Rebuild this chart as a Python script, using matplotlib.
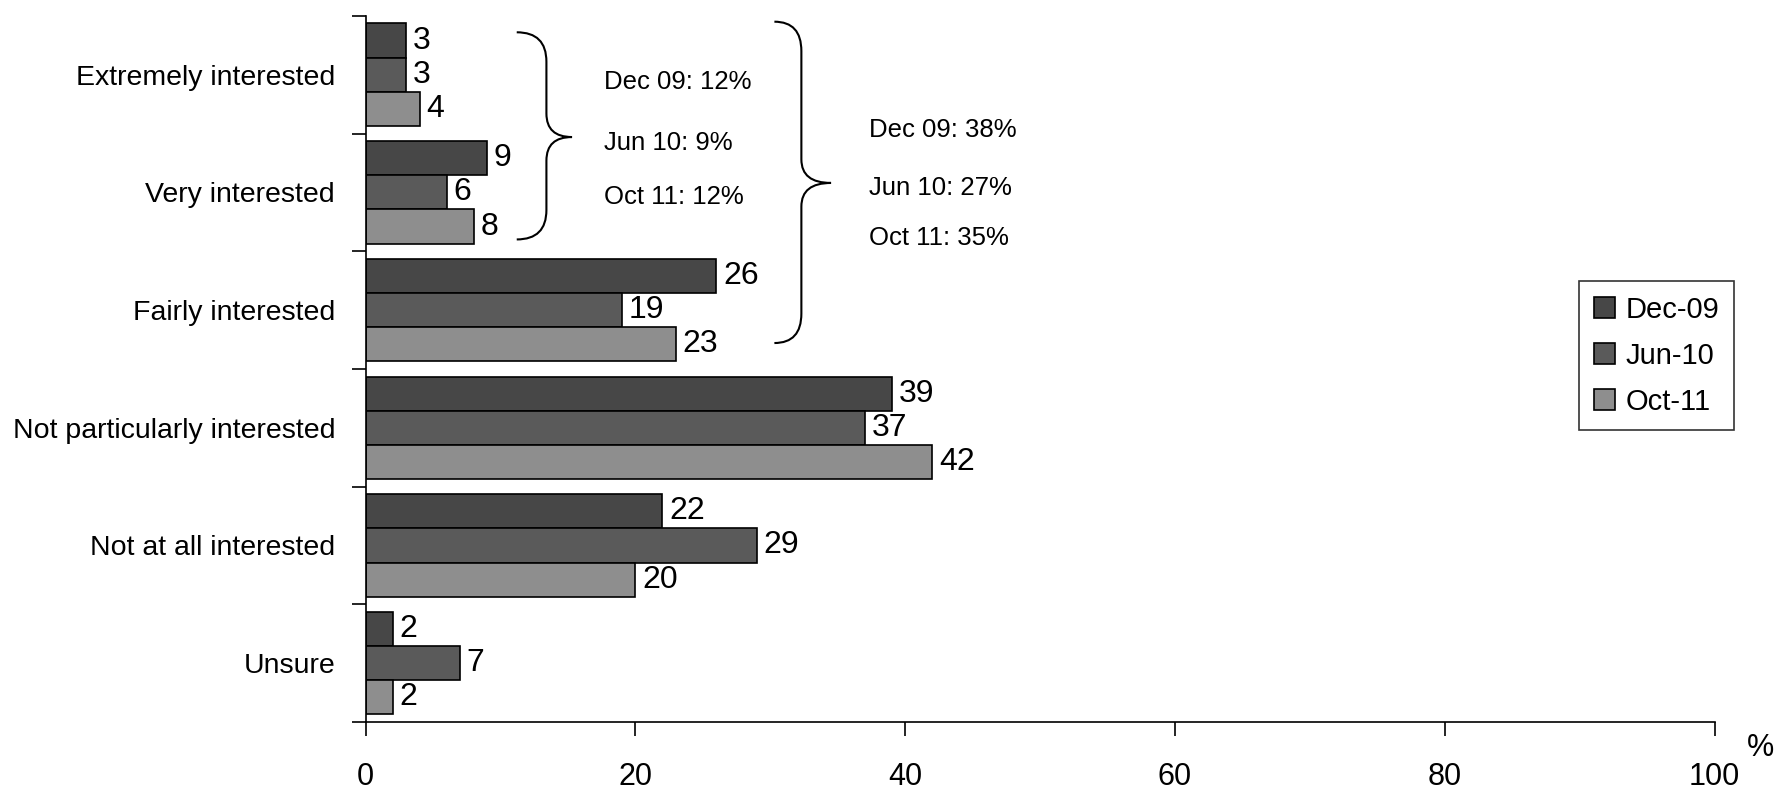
import numpy as np
import matplotlib.pyplot as plt
from matplotlib.path import Path
from matplotlib.patches import PathPatch

categories = ['Extremely interested', 'Very interested', 'Fairly interested',
              'Not particularly interested', 'Not at all interested', 'Unsure']
series = ['Dec-09', 'Jun-10', 'Oct-11']
dec09 = [3, 9, 26, 39, 22, 2]
jun10 = [3, 6, 19, 37, 29, 7]
oct11 = [4, 8, 23, 42, 20, 2]
colors = ['#474747', '#5a5a5a', '#8e8e8e']

note_top = ['Dec 09: 12%', 'Jun 10: 9%', 'Oct 11: 12%']
note_all = ['Dec 09: 38%', 'Jun 10: 27%', 'Oct 11: 35%']

narrow = ['Liberation Sans Narrow', 'Liberation Sans', 'DejaVu Sans']
plt.rcParams['font.family'] = ['Liberation Sans', 'DejaVu Sans']


def brace(ax, x0, xv, xt, y0, ym, y1):
    # right-pointing curly brace, ends at x0, spine at xv, tip at xt
    verts = [(x0, y0), (xv, y0), (xv, y0 + 0.25),
             (xv, ym - 0.2), (xv, ym), (xt, ym),
             (xv, ym), (xv, ym + 0.2),
             (xv, y1 - 0.25), (xv, y1), (x0, y1)]
    codes = [Path.MOVETO, Path.CURVE3, Path.CURVE3,
             Path.LINETO, Path.CURVE3, Path.CURVE3,
             Path.CURVE3, Path.CURVE3,
             Path.LINETO, Path.CURVE3, Path.CURVE3]
    ax.add_patch(PathPatch(Path(verts, codes), fill=False, lw=1.5,
                           edgecolor='black', clip_on=False))


fig = plt.figure(figsize=(17.75, 7.9), dpi=100)
ax = fig.add_axes([0.206, 0.086, 0.76, 0.894])

y = np.arange(len(categories))
h = 0.29
for i, (vals, name) in enumerate(zip([dec09, jun10, oct11], series)):
    pos = y + (i - 1) * h
    ax.barh(pos, vals, height=h, color=colors[i], edgecolor='black',
            linewidth=1.2, label=name)
    for p, v in zip(pos, vals):
        ax.text(v + 0.5, p, str(v), va='center', ha='left',
                fontsize=23, family=narrow)

ax.set_xlim(0, 100)
ax.set_ylim(5.5, -0.5)
ax.set_xticks(range(0, 101, 20))
ax.set_xticklabels([str(t) for t in range(0, 101, 20)], family=narrow, fontsize=22)
ax.tick_params(axis='x', length=10, width=1.2, pad=19, direction='out')
ax.set_yticks(y)
ax.set_yticklabels(categories, fontsize=20.5)
ax.tick_params(axis='y', length=0, pad=22)
ax.set_yticks(np.arange(-0.5, 6, 1), minor=True)
ax.tick_params(axis='y', which='minor', length=10, width=1.2)
for s in ['top', 'right']:
    ax.spines[s].set_visible(False)
ax.spines['left'].set_linewidth(1.2)
ax.spines['bottom'].set_linewidth(1.2)

ax.text(102.4, 5.72, '%', fontsize=22, family=narrow, ha='left', va='center')

brace(ax, 11.2, 13.4, 15.3, -0.36, 0.53, 1.40)
brace(ax, 30.3, 32.3, 34.5, -0.45, 0.92, 2.28)
for t, yy in zip(note_top, [0.06, 0.58, 1.04]):
    ax.text(17.7, yy, t, fontsize=18.5, family=narrow, va='center', ha='left')
for t, yy in zip(note_all, [0.47, 0.96, 1.39]):
    ax.text(37.3, yy, t, fontsize=18.5, family=narrow, va='center', ha='left')

leg = ax.legend(loc='upper left', bbox_to_anchor=(1579 / 1775, 1 - 281 / 790),
                bbox_transform=fig.transFigure, frameon=True, fancybox=False,
                prop={'family': narrow, 'size': 21}, handlelength=0.75,
                handleheight=0.75, handletextpad=0.35, borderpad=0.5,
                labelspacing=0.62, borderaxespad=0)
leg.get_frame().set_edgecolor('black')
leg.get_frame().set_linewidth(1.2)

fig.savefig('out.png', dpi=100)
